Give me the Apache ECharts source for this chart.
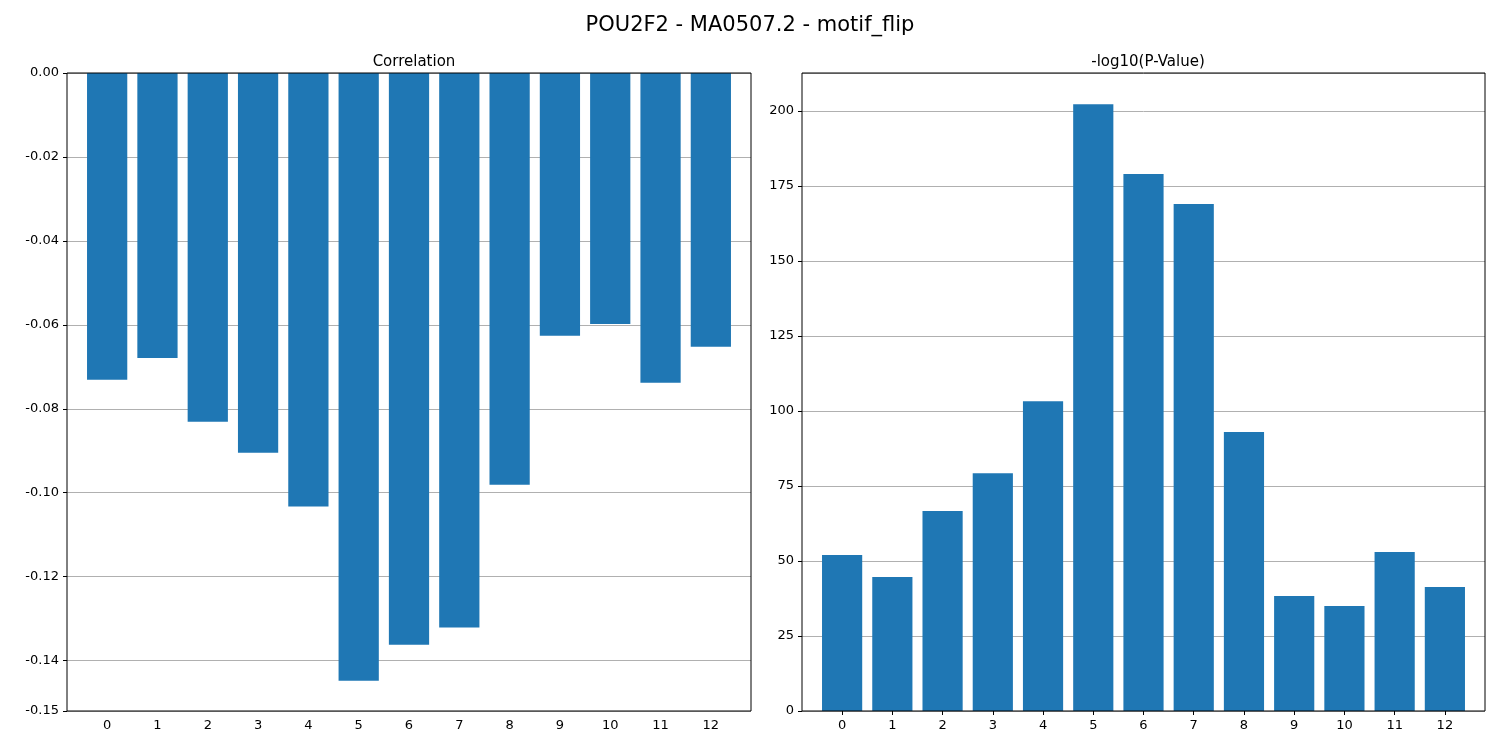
<!DOCTYPE html>
<html>
<head>
<meta charset="utf-8">
<title>POU2F2 - MA0507.2 - motif_flip</title>
<style>
body{margin:0;background:#fff;}
#chart{width:1500px;height:750px;}
</style>
<script src="https://cdn.jsdelivr.net/npm/echarts@6/dist/echarts.min.js"></script>
</head>
<body>
<div id="chart"></div>
<script>
var categories = ['0','1','2','3','4','5','6','7','8','9','10','11','12'];
var correlation = [-0.0731,-0.0679,-0.0831,-0.0905,-0.1033,-0.1448,-0.1362,-0.1321,-0.0981,-0.0626,-0.0598,-0.0738,-0.0652];
var negLogP = [52,44.7,66.7,79.3,103.3,202.3,179,169,93,38.3,35,53,41.3];

var font = 'DejaVu Sans';
var chart = echarts.init(document.getElementById('chart'));
var lbl = {color:'#000', fontFamily:font, fontSize:13};
var tick = {show:true, length:4, lineStyle:{color:'#000'}};
var split = {show:true, lineStyle:{color:'#b0b0b0', width:1}};
function hidden(i){ return {gridIndex:i, show:false}; }

chart.setOption({
	animation:false,
	title:[
		{text:'POU2F2 - MA0507.2 - motif_flip', left:'center', top:10, textStyle:{fontFamily:font, fontSize:21, fontWeight:'normal', color:'#000'}},
		{text:'Correlation', left:409, top:50, textAlign:'center', textStyle:{fontFamily:font, fontSize:15, fontWeight:'normal', color:'#000'}},
		{text:'-log10(P-Value)', left:1143, top:50, textAlign:'center', textStyle:{fontFamily:font, fontSize:15, fontWeight:'normal', color:'#000'}}
	],
	grid:[
		{left:67, width:684, top:73, height:638, show:true, borderColor:'#000', borderWidth:1, z:10},
		{left:82, width:654, top:73, height:638},
		{left:802, width:683, top:73, height:638, show:true, borderColor:'#000', borderWidth:1, z:10},
		{left:817, width:653, top:73, height:638}
	],
	xAxis:[
		hidden(0),
		{type:'category', gridIndex:1, data:categories, axisLine:{show:false}, axisTick:Object.assign({alignWithLabel:true}, tick), axisLabel:lbl},
		hidden(2),
		{type:'category', gridIndex:3, data:categories, axisLine:{show:false}, axisTick:Object.assign({alignWithLabel:true}, tick), axisLabel:lbl}
	],
	yAxis:[
		{type:'value', gridIndex:0, inverse:true, min:0, max:0.152, interval:0.02, axisLine:{show:false}, axisTick:tick, splitLine:split,
			axisLabel:Object.assign({formatter:function(v){ return v === 0 ? '0.00' : (-v).toFixed(2); }}, lbl)},
		{type:'value', gridIndex:1, inverse:true, min:0, max:0.152, show:false, splitLine:{show:false}},
		{type:'value', gridIndex:2, min:0, max:212.7, interval:25, axisLine:{show:false}, axisTick:tick, splitLine:split,
			axisLabel:Object.assign({showMaxLabel:false}, lbl)},
		{type:'value', gridIndex:3, min:0, max:212.7, show:false, splitLine:{show:false}}
	],
	series:[
		{type:'bar', xAxisIndex:1, yAxisIndex:1, barWidth:'80%', itemStyle:{color:'#1f77b4'},
			data:correlation.map(function(v){ return -v; })},
		{type:'bar', xAxisIndex:3, yAxisIndex:3, barWidth:'80%', itemStyle:{color:'#1f77b4'}, data:negLogP}
	]
});
</script>
</body>
</html>
